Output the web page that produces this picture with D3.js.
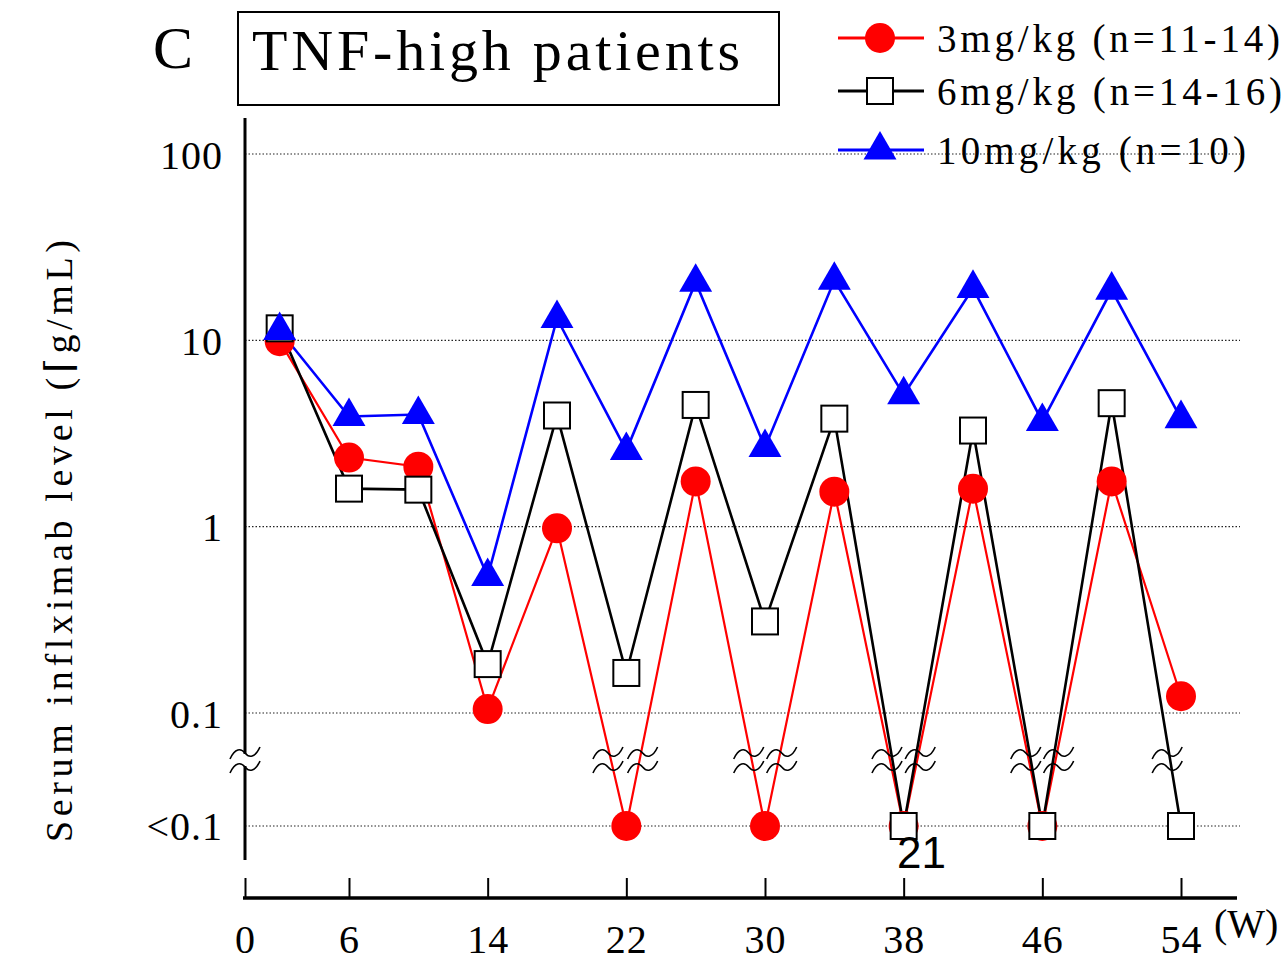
<!DOCTYPE html>
<head>
<meta charset="utf-8">
<script src="https://d3js.org/d3.v7.min.js"></script>
<style>
  body { margin: 0; background: #fff; }
  text { font-family: "Liberation Serif", "DejaVu Serif", serif; fill: #000; }
</style>
</head>
<body>
  <svg id="chart" width="1284" height="963"></svg>
  <script>
    // "<0.1" means below the detection limit
    const BLQ = "<0.1";
    const weeks = [2, 6, 10, 14, 18, 22, 26, 30, 34, 38, 42, 46, 50, 54];
    const dose3 = [9.9, 2.35, 2.1, 0.105, 0.98, BLQ, 1.75, BLQ, 1.54, BLQ, 1.6, BLQ, 1.75, 0.123];
    const dose6 = [11.6, 1.6, 1.58, 0.183, 3.95, 0.164, 4.5, 0.31, 3.8, BLQ, 3.28, BLQ, 4.6, BLQ];
    const dose10 = [11.3, 3.9, 4.0, 0.54, 13.1, 2.56, 20.5, 2.66, 21, 5.1, 19, 3.67, 18.6, 3.8];
    const xTicks = [0, 6, 14, 22, 30, 38, 46, 54];
    const yTicks = [100, 10, 1, 0.1];
    const seriesNames = ["3mg/kg (n=11-14)", "6mg/kg (n=14-16)", "10mg/kg (n=10)"];

    const svg = d3.select("#chart");

    const x = d3.scaleLinear().domain([0, 54]).range([245, 1181]);
    const yLog = d3.scaleLog().domain([0.1, 100]).range([713, 154]);
    const yLow = yLog(0.1) + 113;
    const yBreak = yLog(0.1) + 47;
    const y = v => v === BLQ ? yLow : yLog(v);
    const gridRight = 1240;

    // Dotted grid lines
    const grid = svg.append("g").attr("class", "grid");
    grid.selectAll("line")
      .data(yTicks.map(yLog).concat([yLow]))
      .join("line")
      .attr("x1", x(0)).attr("x2", gridRight)
      .attr("y1", d => d).attr("y2", d => d)
      .attr("stroke", "#222").attr("stroke-width", 1.2)
      .attr("stroke-dasharray", "1.5,2");

    // Y axis line
    svg.append("line")
      .attr("x1", x(0)).attr("x2", x(0))
      .attr("y1", 118).attr("y2", 860)
      .attr("stroke", "#000").attr("stroke-width", 3);

    // Y tick labels
    const yAxis = svg.append("g")
      .attr("transform", `translate(${x(0)},0)`)
      .call(d3.axisLeft(yLog).tickValues(yTicks).tickSize(0).tickPadding(22)
        .tickFormat(d => d3.format("~g")(d)));
    yAxis.select(".domain").remove();
    yAxis.selectAll("text")
      .style("font-family", "Liberation Serif, serif")
      .style("font-size", "40px").style("letter-spacing", "1px")
      .attr("dy", "0.35em");
    svg.append("text")
      .attr("x", x(0) - 22).attr("y", yLow).attr("dy", "0.35em")
      .attr("text-anchor", "end")
      .style("font-size", "40px").style("letter-spacing", "1px")
      .text(BLQ);

    // X axis
    svg.append("line")
      .attr("x1", x(0) - 2).attr("x2", 1237)
      .attr("y1", 898).attr("y2", 898)
      .attr("stroke", "#000").attr("stroke-width", 3.5);
    const xAxis = svg.append("g")
      .attr("transform", "translate(0,898)")
      .call(d3.axisBottom(x).tickValues(xTicks).tickSize(-20).tickPadding(27));
    xAxis.select(".domain").remove();
    xAxis.selectAll(".tick line").attr("stroke", "#000").attr("stroke-width", 2);
    xAxis.selectAll("text")
      .style("font-family", "Liberation Serif, serif")
      .style("font-size", "40px").style("letter-spacing", "1px");
    svg.append("text")
      .attr("x", 1214).attr("y", 937)
      .style("font-size", "40px")
      .text("(W)");

    // Break symbol
    const squiggle = "M-15,6 C-10,-5 -4,-5 0,0 S 10,5 15,-6";
    function drawBreak(g, cx, cy, blank) {
      const b = g.append("g").attr("transform", `translate(${cx},${cy})`);
      if (blank) {
        b.append("rect").attr("x", -8).attr("y", -6).attr("width", 16).attr("height", 12)
          .attr("fill", "#fff");
      }
      [-7, 7].forEach(off => {
        b.append("path").attr("d", squiggle)
          .attr("transform", `translate(0,${off})`)
          .attr("fill", "none").attr("stroke", "#000").attr("stroke-width", 1.6);
      });
    }
    drawBreak(svg, x(0), yBreak, true);

    // Series
    const series = [
      { name: seriesNames[0], values: dose3, color: "#ff0000", width: 2.2, marker: "circle" },
      { name: seriesNames[1], values: dose6, color: "#000000", width: 2.6, marker: "square" },
      { name: seriesNames[2], values: dose10, color: "#0000ff", width: 2.6, marker: "triangle" }
    ];

    const line = d3.line().x(d => x(d.w)).y(d => y(d.v));

    function drawMarker(g, type, color) {
      if (type === "circle") {
        g.append("circle").attr("r", 15).attr("fill", color);
      } else if (type === "square") {
        g.append("rect").attr("x", -13).attr("y", -13).attr("width", 26).attr("height", 26)
          .attr("fill", "#fff").attr("stroke", "#000").attr("stroke-width", 2);
      } else {
        g.append("path").attr("d", d3.symbol(d3.symbolTriangle, 470)()).attr("fill", color);
      }
    }

    // Break marks on line segments that reach "<0.1"
    const breakMarks = new Map();
    series.forEach(s => {
      const pts = weeks.map((w, i) => ({ w, v: s.values[i] }));
      for (let i = 1; i < pts.length; i++) {
        const a = pts[i - 1], b = pts[i];
        if ((a.v === BLQ) === (b.v === BLQ)) continue;
        const key = (a.v === BLQ ? a.w : b.w) + (a.v === BLQ ? "R" : "L");
        if (breakMarks.has(key)) continue;
        const ya = y(a.v), yb = y(b.v);
        const t = (yBreak - ya) / (yb - ya);
        breakMarks.set(key, x(a.w) + t * (x(b.w) - x(a.w)) + (a.v === BLQ ? 3 : -3));
      }
    });

    series.forEach(s => {
      const pts = weeks.map((w, i) => ({ w, v: s.values[i] }));
      svg.append("path")
        .datum(pts)
        .attr("d", line)
        .attr("fill", "none")
        .attr("stroke", s.color)
        .attr("stroke-width", s.width);
    });

    const breaks = svg.append("g");
    breakMarks.forEach(cx => drawBreak(breaks, cx, yBreak, false));

    series.forEach(s => {
      weeks.forEach((w, i) => {
        const g = svg.append("g").attr("transform", `translate(${x(w)},${y(s.values[i])})`);
        drawMarker(g, s.marker, s.color);
      });
    });

    // Stray annotation from the original figure
    svg.append("text")
      .attr("x", 897).attr("y", 868)
      .style("font-family", "Liberation Sans, Arial, sans-serif")
      .style("font-size", "44px")
      .text("21");

    // Legend
    const legend = svg.append("g").attr("class", "legend");
    const legendY = [38, 91, 150];
    const legendLen = [343, 345, 309];
    series.forEach((s, i) => {
      legend.append("line")
        .attr("x1", 838).attr("x2", 924)
        .attr("y1", legendY[i]).attr("y2", legendY[i])
        .attr("stroke", s.color).attr("stroke-width", 3);
      drawMarker(legend.append("g").attr("transform", `translate(880,${legendY[i]})`), s.marker, s.color);
      legend.append("text")
        .attr("x", 937).attr("y", legendY[i] + 14)
        .attr("textLength", legendLen[i]).attr("lengthAdjust", "spacing")
        .style("font-size", "39px")
        .text(s.name);
    });

    // Panel letter and title box
    svg.append("text")
      .attr("x", 153).attr("y", 68)
      .style("font-size", "60px")
      .text("C");
    svg.append("rect")
      .attr("x", 238).attr("y", 12).attr("width", 541).attr("height", 93)
      .attr("fill", "none").attr("stroke", "#000").attr("stroke-width", 2);
    svg.append("text")
      .attr("x", 252).attr("y", 70)
      .attr("textLength", 488).attr("lengthAdjust", "spacing")
      .style("font-size", "58px")
      .text("TNF-high patients");

    // Y axis title
    svg.append("text")
      .attr("transform", "translate(72,541) rotate(-90)")
      .attr("text-anchor", "middle")
      .attr("textLength", 602).attr("lengthAdjust", "spacing")
      .style("font-size", "38px")
      .text("Serum inflximab level (\u2308g/mL)");
  </script>
</body>
